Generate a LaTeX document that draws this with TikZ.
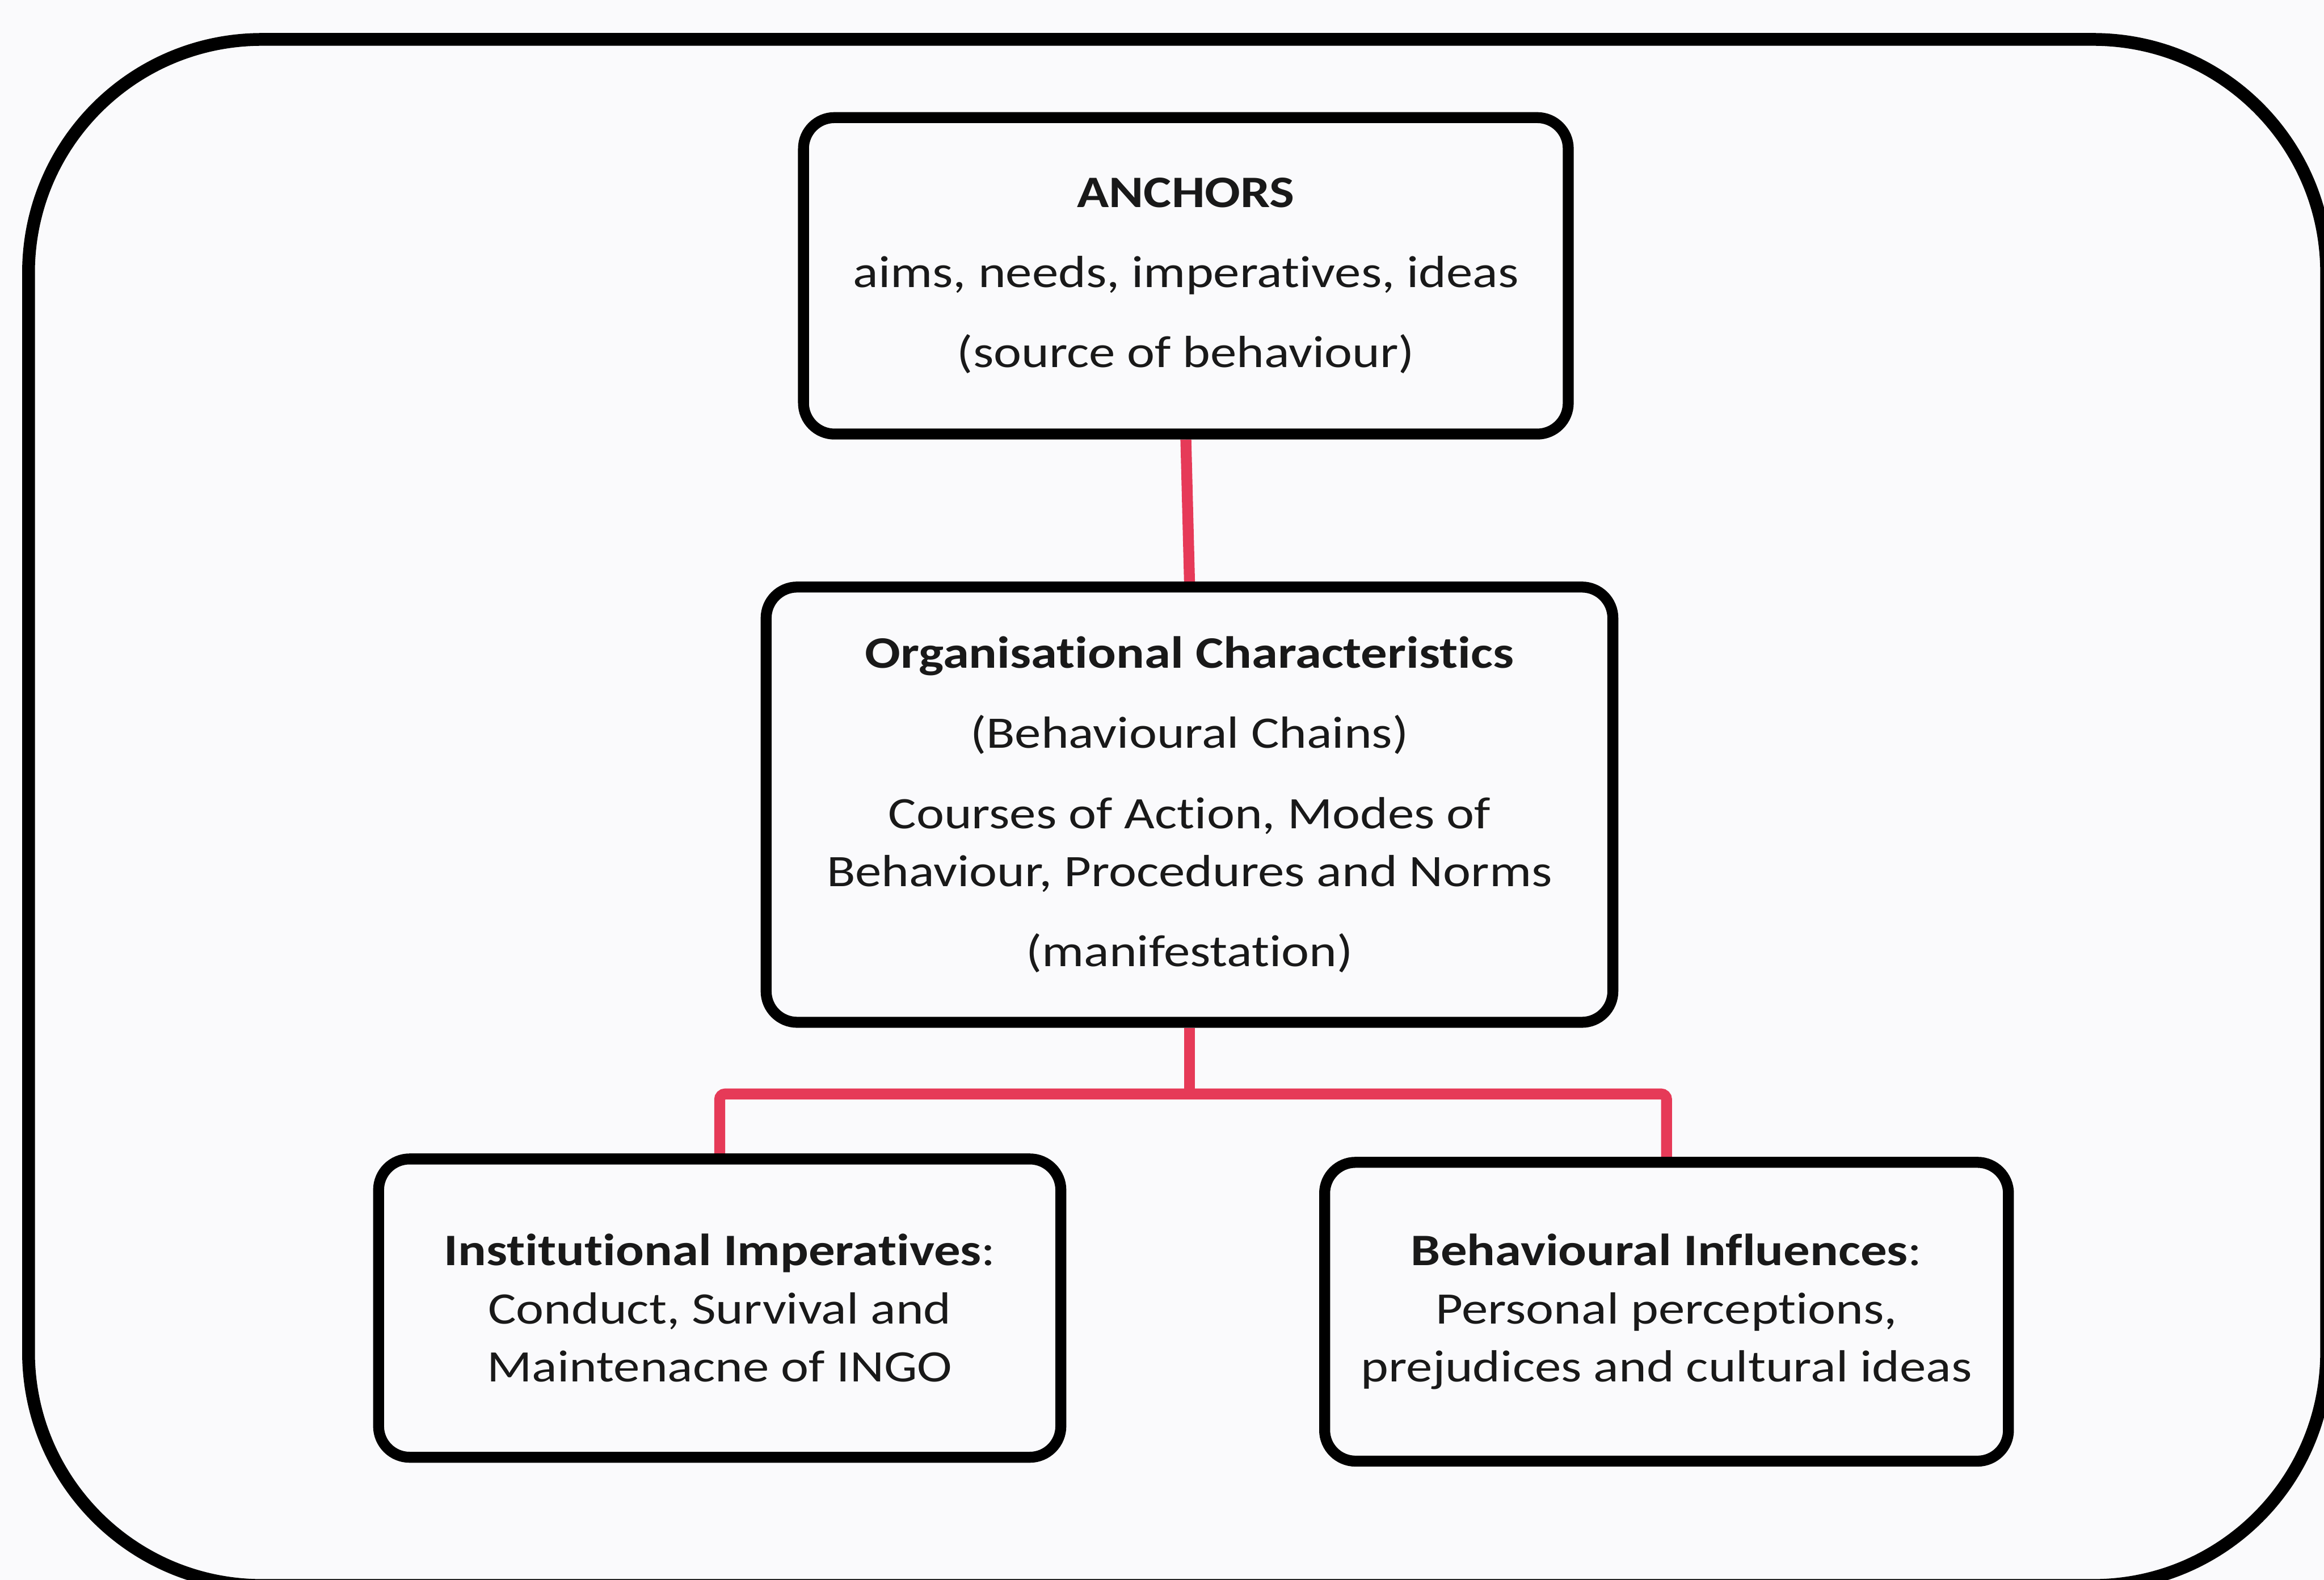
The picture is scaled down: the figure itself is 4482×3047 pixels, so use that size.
\documentclass[tikz,border=0pt]{standalone}
\usepackage{fontspec}
\setmainfont{Carlito}[FakeStretch=1.17, Ligatures=NoCommon]
\usetikzlibrary{backgrounds}
\definecolor{paper}{RGB}{250,250,252}
\definecolor{linkred}{RGB}{230,58,88}
\begin{document}
\begin{tikzpicture}[x=0.01cm,y=-0.01cm,
  box/.style={draw=black, line width=6pt, rounded corners=17pt, fill=paper,
    inner sep=0pt, align=center, text=black!90,
    font=\fontsize{24.7}{31.9}\selectfont},
  link/.style={draw=linkred, line width=6pt, rounded corners=3pt},
  frame/.style={draw=black, line width=7pt, rounded corners=128pt}]
\useasboundingbox (0,0) rectangle (4482,3047);

% the four boxes of the chain
\node[box, minimum width=14.74cm, minimum height=6.10cm] (anchors) at (2287,532)
  {\textbf{ANCHORS}\\[12pt]aims, needs, imperatives, ideas\\[12pt](source of behaviour)};
\node[box, minimum width=16.32cm, minimum height=8.39cm] (org) at (2294,1552)
  {\textbf{Organisational Characteristics}\\[12pt](Behavioural Chains)\\[12pt]Courses of Action, Modes of\\Behaviour, Procedures and Norms\\[12pt](manifestation)};
\node[box, minimum width=13.15cm, minimum height=5.75cm] (inst) at (1388,2523)
  {\textbf{Institutional Imperatives}:\\Conduct, Survival and\\Maintenacne of INGO};
\node[box, minimum width=13.18cm, minimum height=5.76cm] (beh) at (3214,2530)
  {\textbf{Behavioural Influences}:\\Personal perceptions,\\prejudices and cultural ideas};

\coordinate (hub) at (org.south |- 0,2110);

\begin{scope}[on background layer]
  \fill[paper] (0,0) rectangle (4482,3047);
  \begin{scope}
    \clip (0,0) rectangle (4482,3047);
    \draw[frame] (55,76) rectangle (4487,3058);
  \end{scope}
  \draw[link] (anchors.south) -- (org.north);
  \draw[link] (org.south) -- (hub);
  \draw[link] (inst.north) -- (inst.north |- hub) -- (beh.north |- hub) -- (beh.north);
\end{scope}
\end{tikzpicture}
\end{document}
